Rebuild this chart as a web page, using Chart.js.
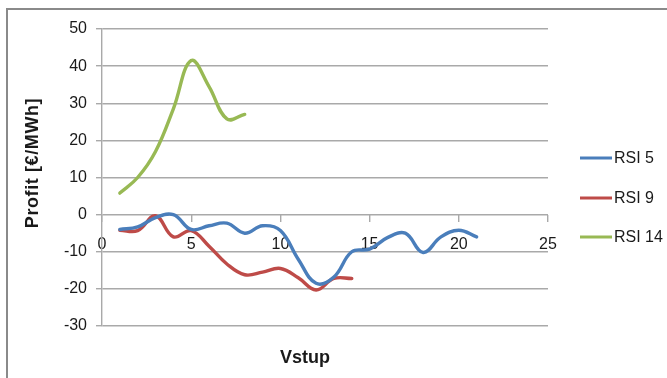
<!DOCTYPE html>
<html>
<head>
<meta charset="utf-8">
<script src="https://cdn.jsdelivr.net/npm/chart.js@4/dist/chart.umd.min.js"></script>
<style>
  html, body { margin: 0; padding: 0; background: #fff; }
  #wrap { position: relative; width: 667px; height: 378px; }
</style>
</head>
<body>
<div id="wrap"><canvas id="c" width="667" height="378"></canvas></div>
<script>
// Profit per input step for three RSI settings
const xRsi5  = [1, 2, 3, 4, 5, 6, 7, 8, 9, 10, 11, 12, 13, 14, 15, 16, 17, 18, 19, 20, 21];
const rsi5   = [-4, -3.3, -0.8, 0, -4, -3, -2.3, -5, -3, -4.3, -12, -18.5, -16.8, -10, -9.3, -6.2, -5, -10.2, -6, -4.2, -6];
const xRsi9  = [1, 2, 3, 4, 5, 6, 7, 8, 9, 10, 11, 12, 13, 14];
const rsi9   = [-4.2, -4.3, -0.3, -6, -4.3, -8.5, -13.3, -16.2, -15.5, -14.5, -17, -20.3, -17.2, -17.2];
const xRsi14 = [1, 2, 3, 4, 5, 6, 7, 8];
const rsi14  = [5.8, 10, 17, 28.5, 41.5, 34.5, 25.8, 27];

const seriesNames = ['RSI 5', 'RSI 9', 'RSI 14'];
const yTicks = { min: -30, max: 50, step: 10 };
const xTicks = { min: 0, max: 25, step: 5 };
const yTitle = 'Profit [€/MWh]';
const xTitle = 'Vstup';

const colors = ['#4a7ebb', '#be4b48', '#98b954'];
const FONT = "'Liberation Sans', Arial, sans-serif";
const GRID = '#a9a9a9';

function pts(xs, ys) { return xs.map((x, i) => ({ x, y: ys[i] })); }

const decor = {
  id: 'decor',
  beforeDraw(chart) {
    const ctx = chart.ctx;
    ctx.save();
    ctx.strokeStyle = '#8a8a8a';
    ctx.lineWidth = 2;
    ctx.beginPath();
    ctx.moveTo(7, 378);
    ctx.lineTo(7, 9);
    ctx.lineTo(667, 9);
    ctx.stroke();
    ctx.restore();
  },
  afterDraw(chart) {
    const ctx = chart.ctx;
    ctx.save();
    ctx.fillStyle = '#1a1a1a';
    // axis titles
    ctx.font = 'bold 18px ' + FONT;
    ctx.textAlign = 'center';
    ctx.textBaseline = 'middle';
    ctx.fillText(xTitle, 305, 358);
    ctx.translate(33, 163);
    ctx.rotate(-Math.PI / 2);
    ctx.letterSpacing = '0.6px';
    ctx.fillText(yTitle, 0, 0);
    ctx.restore();

    // legend
    ctx.save();
    ctx.font = '16px ' + FONT;
    ctx.textBaseline = 'middle';
    ctx.textAlign = 'left';
    const ys = [158, 198, 237];
    chart.data.datasets.forEach((ds, i) => {
      ctx.strokeStyle = ds.borderColor;
      ctx.lineWidth = 3;
      ctx.beginPath();
      ctx.moveTo(580, ys[i]);
      ctx.lineTo(612, ys[i]);
      ctx.stroke();
      ctx.fillStyle = '#1a1a1a';
      ctx.fillText(ds.label, 614, ys[i] + 1);
    });
    ctx.restore();
  }
};

new Chart(document.getElementById('c'), {
  type: 'line',
  data: {
    datasets: [
      { label: seriesNames[0], data: pts(xRsi5, rsi5), borderColor: colors[0] },
      { label: seriesNames[1], data: pts(xRsi9, rsi9), borderColor: colors[1] },
      { label: seriesNames[2], data: pts(xRsi14, rsi14), borderColor: colors[2] }
    ]
  },
  options: {
    responsive: false,
    animation: false,
    events: [],
    layout: { padding: { left: 0, right: 119, top: 29, bottom: 52 } },
    elements: {
      line: { borderWidth: 3.4, tension: 0.4, fill: false, borderCapStyle: 'round' },
      point: { radius: 0 }
    },
    plugins: { legend: { display: false }, tooltip: { enabled: false } },
    scales: {
      x: {
        type: 'linear',
        position: { y: 0 },
        min: xTicks.min, max: xTicks.max,
        ticks: { stepSize: xTicks.step, color: '#1a1a1a', font: { family: FONT, size: 16 }, padding: 13, maxRotation: 0 },
        grid: { drawOnChartArea: false, drawTicks: true, tickLength: 7, color: GRID, lineWidth: 1.4 },
        border: { display: false }
      },
      y: {
        type: 'linear',
        min: yTicks.min, max: yTicks.max,
        afterFit(s) { s.width = 102; },
        ticks: { stepSize: yTicks.step, color: '#1a1a1a', font: { family: FONT, size: 16 }, padding: 9 },
        grid: { color: GRID, lineWidth: 1.4, tickLength: 6, drawTicks: true },
        border: { display: true, color: GRID, width: 1.4 }
      }
    }
  },
  plugins: [decor]
});
</script>
</body>
</html>
